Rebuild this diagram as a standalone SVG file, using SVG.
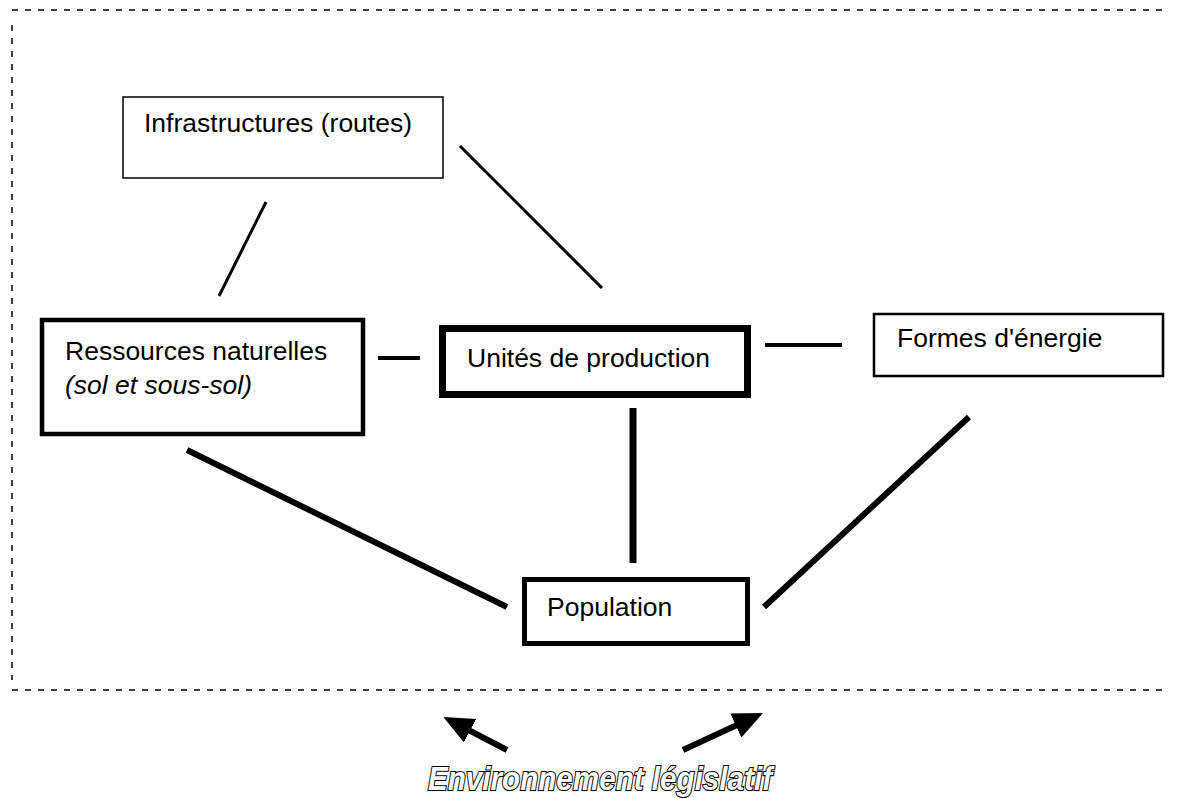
<svg xmlns="http://www.w3.org/2000/svg" width="1179" height="798" viewBox="0 0 1179 798">
<style>
.bg{fill:#fff}
.frame{fill:none;stroke:#000;stroke-width:1.5;stroke-dasharray:6,7}
.box{fill:#fff;stroke:#000}
.lbl{font-family:"Liberation Sans",Arial,sans-serif;font-size:26.5px;fill:#000}
.it{font-style:italic}
.c{stroke:#000;stroke-linecap:butt;fill:none}
.leg{font-family:"Liberation Sans",Arial,sans-serif;font-weight:bold;font-style:italic;font-size:34px;fill:#fff;stroke:#000;stroke-width:2.2;paint-order:stroke}
</style>
<defs>
<marker id="ah" markerWidth="5" markerHeight="4.4" refX="1.5" refY="2.2" orient="auto" markerUnits="strokeWidth">
<path d="M0,0 L5,2.2 L0,4.4 z" fill="#000"/>
</marker>
</defs>
<rect class="bg" x="0" y="0" width="1179" height="798"/>
<g id="frame">
<line class="frame" x1="12" y1="10" x2="1166" y2="10"/>
<line class="frame" x1="12" y1="25" x2="12" y2="680"/>
<line class="frame" x1="12" y1="690" x2="1166" y2="690"/>
</g>
<g id="connectors">
<line class="c" stroke-width="3" x1="266" y1="202" x2="219" y2="296"/>
<line class="c" stroke-width="3" x1="460" y1="146" x2="602" y2="288"/>
<line class="c" stroke-width="4" x1="378" y1="358" x2="420" y2="358"/>
<line class="c" stroke-width="4" x1="765" y1="345" x2="842" y2="345"/>
<line class="c" stroke-width="7" x1="633" y1="408" x2="633" y2="563"/>
<line class="c" stroke-width="6" x1="187" y1="450" x2="507" y2="607"/>
<line class="c" stroke-width="6" x1="969" y1="417" x2="764" y2="607"/>
<line class="c" stroke-width="6" x1="507" y1="750" x2="462" y2="726.6" marker-end="url(#ah)"/>
<line class="c" stroke-width="6" x1="683" y1="750" x2="744" y2="721.8" marker-end="url(#ah)"/>
</g>
<g id="infrastructures">
<rect class="box" stroke-width="1.5" x="123" y="97" width="320" height="81"/>
<text class="lbl" x="144" y="132">Infrastructures (routes)</text>
</g>
<g id="ressources">
<rect class="box" stroke-width="4.5" x="42" y="320" width="321" height="114"/>
<text class="lbl" x="65" y="360">Ressources naturelles</text>
<text class="lbl it" x="65" y="394">(sol et sous-sol)</text>
</g>
<g id="unites">
<rect class="box" stroke-width="7" x="442.5" y="328.5" width="305" height="66"/>
<text class="lbl" x="467" y="367">Unités de production</text>
</g>
<g id="formes">
<rect class="box" stroke-width="2.5" x="874" y="314" width="289" height="62"/>
<text class="lbl" x="897" y="347">Formes d'énergie</text>
</g>
<g id="population">
<rect class="box" stroke-width="5" x="524.5" y="579.5" width="223" height="64"/>
<text class="lbl" x="547" y="616">Population</text>
</g>
<g id="legend">
<text class="leg" x="428" y="790" textLength="344" lengthAdjust="spacingAndGlyphs">Environnement législatif</text>
</g>
</svg>
